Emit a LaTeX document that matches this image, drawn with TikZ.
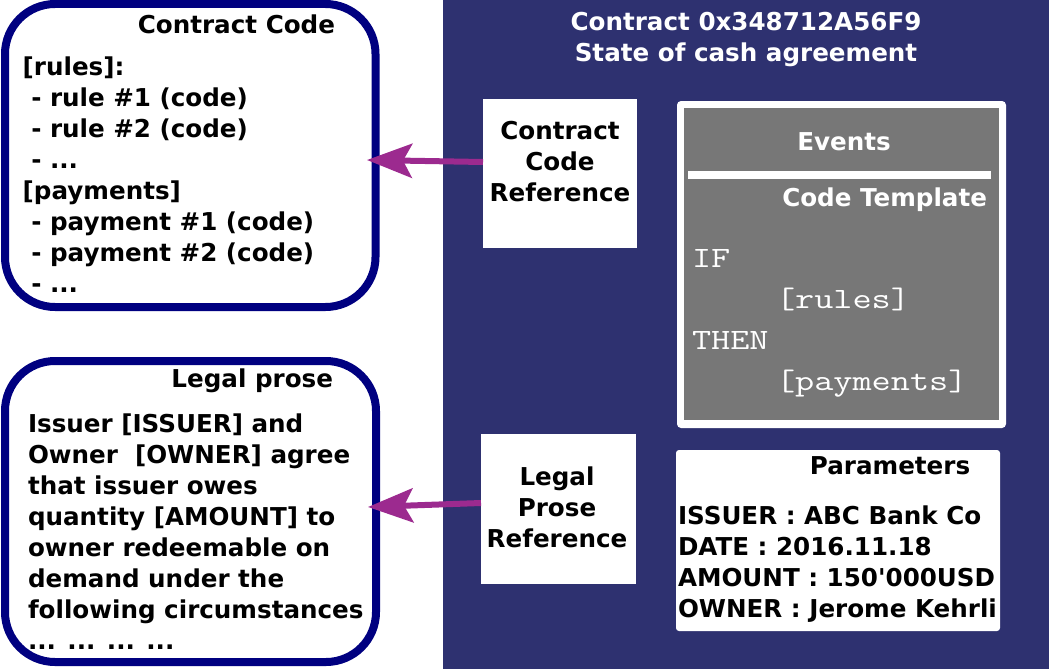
\documentclass[tikz,border=0pt]{standalone}
\usepackage{fontspec}
\setmainfont{DejaVu Sans}
\usetikzlibrary{arrows.meta}
\definecolor{panel}{RGB}{46,49,112}
\definecolor{navyb}{RGB}{0,0,128}
\definecolor{arrowc}{RGB}{156,42,143}
\definecolor{evgray}{RGB}{119,119,119}
\newcommand{\monotxt}[1]{\scalebox{1.26}[1]{\ttfamily\fontsize{29.5}{41}\selectfont #1}}
\tikzset{
  txt/.style={inner sep=0pt, outer sep=0pt, font=\bfseries\fontsize{24.6}{31}\selectfont},
  ltxt/.style={txt, anchor=base west},
  mono/.style={inner sep=0pt, outer sep=0pt, text=white, anchor=base west},
  roundbox/.style={draw=navyb, fill=white, line width=8pt, rounded corners=50pt, inner sep=0pt, outer sep=0pt},
  whitebox/.style={fill=white, inner sep=0pt, outer sep=0pt},
  link/.style={draw=arrowc, line width=6pt, -{Stealth[length=45pt, width=34pt, inset=9pt]}},
}
\begin{document}
\begin{tikzpicture}[x=1pt,y=-1pt]
\useasboundingbox (0,0) rectangle (1049,669);
\fill[white] (0,0) rectangle (1049,669);
\fill[panel] (443,0) rectangle (1049,669);

% left rounded boxes
\node[roundbox, minimum width=370.5pt, minimum height=303pt] (code) at (190.25,155.5) {};
\node[roundbox, minimum width=371pt, minimum height=301pt] (prose) at (190.5,511.5) {};

\node[txt, anchor=base east] (codetitle) at (335,34) {Contract Code};
\node[ltxt] (cc1) at (22.7,75) {{[rules]:}};
\node[ltxt] (cc2) at (22.7,106) {\ - rule \#1 (code)};
\node[ltxt] (cc3) at (22.7,137) {\ - rule \#2 (code)};
\node[ltxt] (cc4) at (22.7,168) {\ - ...};
\node[ltxt] (cc5) at (22.7,199) {{[payments]}};
\node[ltxt] (cc6) at (22.7,230) {\ - payment \#1 (code)};
\node[ltxt] (cc7) at (22.7,261) {\ - payment \#2 (code)};
\node[ltxt] (cc8) at (22.7,292) {\ - ...};

\node[txt, anchor=base east] (prosetitle) at (333,387) {Legal prose};
\node[ltxt] (lp1) at (28,432) {Issuer [ISSUER] and};
\node[ltxt] (lp2) at (28,463) {Owner\ \ [OWNER] agree};
\node[ltxt] (lp3) at (28,494) {that issuer owes};
\node[ltxt] (lp4) at (28,525) {quantity [AMOUNT] to};
\node[ltxt] (lp5) at (28,556) {owner redeemable on};
\node[ltxt] (lp6) at (28,587) {demand under the};
\node[ltxt] (lp7) at (28,618) {following circumstances};
\node[ltxt] (lp8) at (28,649) {... ... ... ...};

% panel title
\node[txt, white, anchor=base] (ptitle1) at (746,31) {Contract 0x348712A56F9};
\node[txt, white, anchor=base] (ptitle2) at (746,62) {State of cash agreement};

% reference boxes
\node[whitebox, minimum width=154pt, minimum height=149pt] (ccref) at (560,173.5) {};
\node[txt, anchor=base] (ccr1) at (560,139) {Contract};
\node[txt, anchor=base] (ccr2) at (560,170) {Code};
\node[txt, anchor=base] (ccr3) at (560,201) {Reference};

\node[whitebox, minimum width=155pt, minimum height=150pt] (lpref) at (558.5,509) {};
\node[txt, anchor=base] (lpr1) at (557,485) {Legal};
\node[txt, anchor=base] (lpr2) at (557,516) {Prose};
\node[txt, anchor=base] (lpr3) at (557,547) {Reference};

% events box
\node[whitebox, rounded corners=4pt, minimum width=329pt, minimum height=327pt] (events) at (841.5,264.5) {};
\node[fill=evgray, inner sep=0pt, outer sep=0pt, minimum width=315pt, minimum height=312pt] (evin) at (841.5,264) {};
\coordinate (sepl) at (688,175);
\coordinate (sepr) at (991,175);
\draw[white, line width=8pt] (sepl) -- (sepr);
\node[txt, white, anchor=base] (evtitle) at (844,150) {Events};
\node[txt, white, anchor=base east] (cttitle) at (987,206) {Code Template};
\node[mono] (m1) at (692,267.5) {\monotxt{IF}};
\node[mono] (m2) at (776,308.5) {\monotxt{[rules]}};
\node[mono] (m3) at (692,349.5) {\monotxt{THEN}};
\node[mono] (m4) at (776,390.5) {\monotxt{[payments]}};

% parameters
\node[whitebox, rounded corners=3pt, minimum width=324pt, minimum height=181pt] (params) at (838,540.5) {};
\node[txt, anchor=base] (partitle) at (890,474) {Parameters};
\node[ltxt] (pa1) at (678,524) {ISSUER : ABC Bank Co};
\node[ltxt] (pa2) at (678,555) {DATE : 2016.11.18};
\node[ltxt] (pa3) at (678,586) {AMOUNT : 150\textquotesingle000USD};
\node[ltxt] (pa4) at (678,617) {OWNER : Jerome Kehrli};

% arrows
\coordinate (tip1) at (367,160);
\coordinate (tip2) at (368,507);
\draw[link] ([yshift=11.5pt]ccref.west) -- (tip1);
\draw[link] ([yshift=6pt]lpref.west) -- (tip2);
\end{tikzpicture}
\end{document}
